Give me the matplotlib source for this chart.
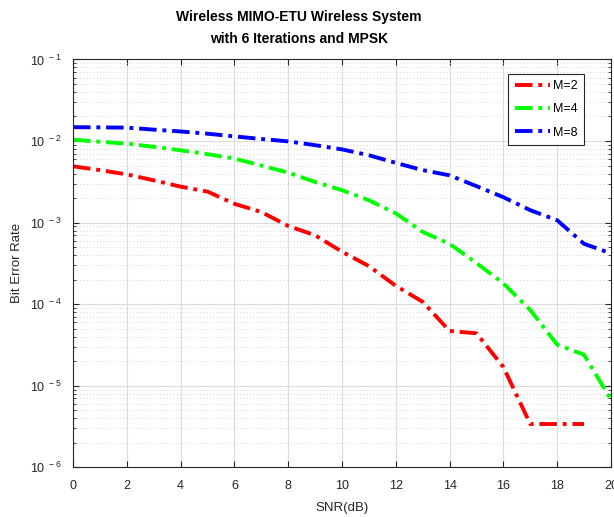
import numpy as np
from matplotlib import pyplot as plt
from matplotlib.ticker import LogLocator, NullFormatter

plt.rcParams['font.family'] = ['Liberation Sans', 'DejaVu Sans']
plt.rcParams['mathtext.fontset'] = 'custom'
plt.rcParams['mathtext.rm'] = 'Liberation Sans'

#----------------------------------------------------
snr = np.arange(0, 21, 1)
labels = ['M=2', 'M=4', 'M=8']
colors = ['#ff0000', '#00ff00', '#0000ff']

ber_m2 = [4.9e-3, 4.4e-3, 3.9e-3, 3.3e-3, 2.76e-3, 2.4e-3, 1.7e-3, 1.35e-3, 9.1e-4,
          7.0e-4, 4.4e-4, 2.93e-4, 1.68e-4, 1.07e-4, 4.7e-5, 4.4e-5, 1.7e-5,
          3.4e-6, 3.4e-6, 3.4e-6]
ber_m4 = [1.04e-2, 9.8e-3, 9.3e-3, 8.5e-3, 7.7e-3, 6.9e-3, 6.1e-3, 5.0e-3, 4.1e-3,
          3.15e-3, 2.5e-3, 1.88e-3, 1.3e-3, 7.7e-4, 5.5e-4, 3.2e-4, 1.8e-4,
          8.5e-5, 3.2e-5, 2.4e-5, 6.8e-6]
ber_m8 = [1.48e-2, 1.47e-2, 1.46e-2, 1.38e-2, 1.31e-2, 1.23e-2, 1.14e-2, 1.06e-2, 9.9e-3,
          8.9e-3, 7.9e-3, 6.7e-3, 5.4e-3, 4.4e-3, 3.8e-3, 2.8e-3, 2.05e-3,
          1.42e-3, 1.07e-3, 5.5e-4, 4.2e-4]
#----------------------------------------------------

fig = plt.figure(figsize=(6.14, 5.17), dpi=100)
ax = fig.add_axes([0.119, 0.096, 0.876, 0.789])

series = [ber_m2, ber_m4, ber_m8]
for ser, col, lab in zip(series, colors, labels):
    ax.semilogy(snr[:len(ser)], ser, color=col, linestyle=(0, (4.5, 1.5, 1, 1.5)),
                linewidth=2.8, label=lab)

ax.set_xlim(0, 20)
ax.set_ylim(1e-6, 1e-1)
ax.set_xticks(np.arange(0, 21, 2))
ax.yaxis.set_minor_locator(LogLocator(base=10, subs=np.arange(2, 10), numticks=20))
ax.yaxis.set_minor_formatter(NullFormatter())
ax.set_yticks([1e-6, 1e-5, 1e-4, 1e-3, 1e-2, 1e-1])
ax.set_yticklabels(['$10^{\\ -%d}$' % k for k in [6, 5, 4, 3, 2, 1]])

ax.grid(True, which='major', color='#dcdcdc', linewidth=0.8, linestyle='-')
ax.grid(True, which='minor', axis='y', color='#c8c8c8', linewidth=0.6, linestyle=(0, (1, 3)))
ax.set_axisbelow(True)

ax.tick_params(which='both', direction='in', top=True, right=True, labelsize=9, colors='#262626')
ax.tick_params(which='major', length=4)
ax.tick_params(which='minor', length=2)
ax.tick_params(axis='y', pad=8)
ax.tick_params(axis='x', pad=9)
for s in ax.spines.values():
    s.set_color('#262626')
    s.set_linewidth(0.8)

ax.set_xlabel('SNR(dB)', fontsize=9.5, color='#262626', labelpad=7)
ax.set_ylabel('Bit Error Rate', fontsize=9.5, color='#262626', labelpad=5)
fig.text(0.487, 0.968, 'Wireless MIMO-ETU Wireless System', ha='center', va='center',
         fontsize=10, fontweight='bold')
fig.text(0.487, 0.924, 'with 6 Iterations and MPSK', ha='center', va='center',
         fontsize=10, fontweight='bold')

leg = ax.legend(loc='upper right', bbox_to_anchor=(0.962, 0.98), fontsize=9,
                handlelength=2.8, handletextpad=0.3, borderpad=0.5, labelspacing=0.9,
                fancybox=False, framealpha=1, edgecolor='#262626')
leg.get_frame().set_linewidth(0.8)

plt.savefig('out.png', dpi=100)
